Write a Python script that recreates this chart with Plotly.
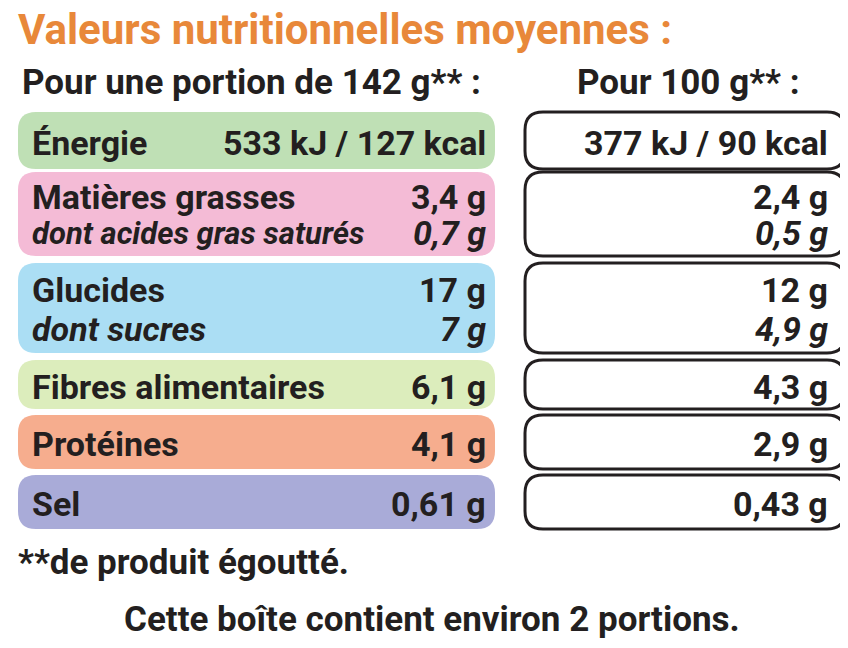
import plotly.graph_objects as go

title = "Valeurs nutritionnelles moyennes :"
header_left = "Pour une portion de 142 g** :"
header_right = "Pour 100 g** :"
labels = ["Énergie", "Matières grasses", "dont acides gras saturés", "Glucides", "dont sucres",
          "Fibres alimentaires", "Protéines", "Sel"]
per_portion = ["533 kJ / 127 kcal", "3,4 g", "0,7 g", "17 g", "7 g", "6,1 g", "4,1 g", "0,61 g"]
per_100g = ["377 kJ / 90 kcal", "2,4 g", "0,5 g", "12 g", "4,9 g", "4,3 g", "2,9 g", "0,43 g"]
italic = [False, False, True, False, True, False, False, False]
# row groups: (top, bottom, colour, item indices)
groups = [(113, 170, "#BFE0B5", [0]), (173, 257, "#F4BBD6", [1, 2]), (264, 354, "#ABDEF4", [3, 4]),
          (361, 410, "#DCEDBC", [5]), (416, 470, "#F6AD8E", [6]), (476, 530, "#A9ABD8", [7])]
footnote = "**de produit égoutté."
footer = "Cette boîte contient environ 2 portions."

FONT = "Liberation Sans Narrow, Roboto, Arial Narrow, sans-serif"
INK = "#231F20"
OFF = -9

def rr(x0, y0, x1, y1, r):
    y0 += OFF; y1 += OFF
    return (f"M{x0+r},{y0} L{x1-r},{y0} Q{x1},{y0} {x1},{y0+r} L{x1},{y1-r} Q{x1},{y1} {x1-r},{y1} "
            f"L{x0+r},{y1} Q{x0},{y1} {x0},{y1-r} L{x0},{y0+r} Q{x0},{y0} {x0+r},{y0} Z")

fig = go.Figure()
shapes, ann = [], []
def txt(x, y, s, size, anchor="left", it=False, color=INK, bold=True):
    t = s
    if it: t = f"<i>{t}</i>"
    if bold: t = f"<b>{t}</b>"
    ann.append(dict(x=x, y=y + OFF, xref="x", yref="y", text=t, showarrow=False, xanchor=anchor,
                    yanchor="middle", font=dict(family=FONT, size=size, color=color)))

txt(8, 30, title, 42, color="#E8883A")
txt(12, 83, header_left, 35)
txt(680, 83, header_right, 35, anchor="center")

for top, bot, col, idx in groups:
    shapes.append(dict(type="path", path=rr(10, top, 487, bot, 18), fillcolor=col, line=dict(width=0), layer="below"))
    shapes.append(dict(type="path", path=rr(517, top, 837, bot, 18), fillcolor="white",
                       line=dict(color=INK, width=3), layer="below"))
    n = len(idx)
    h = (bot - top) / n
    for k, i in enumerate(idx):
        y = top + h * (k + 0.5) + (2 if n == 1 else (4 if k == 0 else -2))
        size = 31 if i == 2 else 34
        txt(22, y, labels[i], size, it=italic[i])
        txt(480, y, per_portion[i], 34, anchor="right", it=italic[i])
        txt(822, y, per_100g[i], 34, anchor="right", it=italic[i])

txt(8, 563, footnote, 35)
txt(424, 620, footer, 35, anchor="center")

fig.update_layout(width=848, height=648, margin=dict(l=0, r=0, t=0, b=0),
                  paper_bgcolor="white", plot_bgcolor="white", shapes=shapes, annotations=ann,
                  xaxis=dict(range=[0, 848], visible=False, fixedrange=True),
                  yaxis=dict(range=[648, 0], visible=False, fixedrange=True), showlegend=False)
fig.write_html("out.html")
